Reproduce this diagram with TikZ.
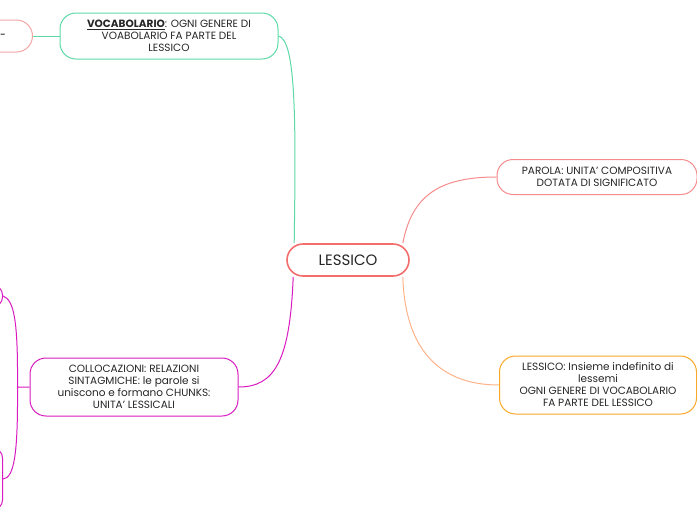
\documentclass[tikz,border=0pt]{standalone}
\usepackage{fontspec}
\setmainfont{Poppins}
\usetikzlibrary{positioning}
\definecolor{salmon}{HTML}{F46E6E}
\definecolor{peach}{HTML}{FFB38A}
\definecolor{amber}{HTML}{F9A826}
\definecolor{magenta}{HTML}{D91AC0}
\definecolor{teal}{HTML}{5DD9A8}
\definecolor{pinkish}{HTML}{F4A6A6}
\tikzset{
  topic/.style = {draw, rounded corners=16pt, line width=1pt, fill=white, align=center,
                  font=\fontsize{10.5}{12}\selectfont, inner sep=3pt, text=black!85},
  link/.style  = {line width=1pt}
}
\begin{document}
\begin{tikzpicture}[x=1pt, y=-1pt]
   \useasboundingbox (0,0) rectangle (697,520);
   \node[topic, draw=salmon, line width=1.6pt, minimum width=122pt, minimum height=32pt,
         font=\fontsize{15}{17}\selectfont] (lessico) at (348,260) {LESSICO};
   \node[topic, draw=salmon!80, minimum width=200pt, minimum height=35pt] (parola) at (597,177)
         {PAROLA: UNITA' COMPOSITIVA\\DOTATA DI SIGNIFICATO};
   \node[topic, draw=amber, minimum width=197pt, minimum height=58pt] (def) at (598,385)
         {LESSICO: Insieme indefinito di\\lessemi\\OGNI GENERE DI VOCABOLARIO\\FA PARTE DEL LESSICO};
   \node[topic, draw=magenta, minimum width=208pt, minimum height=58pt] (colloc) at (134,387)
         {COLLOCAZIONI: RELAZIONI\\SINTAGMICHE: le parole si\\uniscono e formano CHUNKS:\\UNITA' LESSICALI};
   \node[topic, draw=teal, minimum width=218pt, minimum height=46pt] (vocab) at (169,36)
         {\underline{\textbf{VOCABOLARIO}}: OGNI GENERE DI\\VOABOLARIO FA PARTE DEL\\LESSICO};
   \node[topic, draw=pinkish, minimum width=80pt, minimum height=32pt, anchor=east] (prev) at (33,36) {};
   \node[font=\fontsize{10.5}{12}\selectfont, anchor=west, inner sep=0pt] (dash) at (0,36) {-};
   \node[topic, draw=magenta, rounded corners=10pt, minimum width=40pt, minimum height=22pt, anchor=east] (upper) at (3,296) {};
   \node[topic, draw=magenta, rounded corners=10pt, minimum width=40pt, minimum height=62pt, anchor=east] (lower) at (3,479) {};
   % connectors
   \draw[link, salmon!80] (lessico.north east) ++(-7,0) coordinate (a1)
     (a1) .. controls (412,195) and (440,177) .. (parola.west);
   \draw[link, peach] (lessico.south east) ++(-7,0) coordinate (a2)
     (a2) .. controls (405,350) and (440,385) .. (def.west);
   \draw[link, magenta] (lessico.south west) ++(7,0) coordinate (a3)
     (a3) .. controls (290,360) and (275,387) .. (colloc.east);
   \draw[link, teal] (lessico.north west) ++(8,0) coordinate (a4)
     (a4) .. controls (296,120) and (296,40) .. (vocab.east);
   \draw[link, teal] (vocab.west) -- (prev.east);
   \draw[link, magenta] (colloc.west) -- ++(-12,0) coordinate (c1)
     (c1) .. controls (18,320) and (14,300) .. (upper.east)
     (c1) .. controls (18,455) and (14,478) .. (lower.east);
\end{tikzpicture}
\end{document}
